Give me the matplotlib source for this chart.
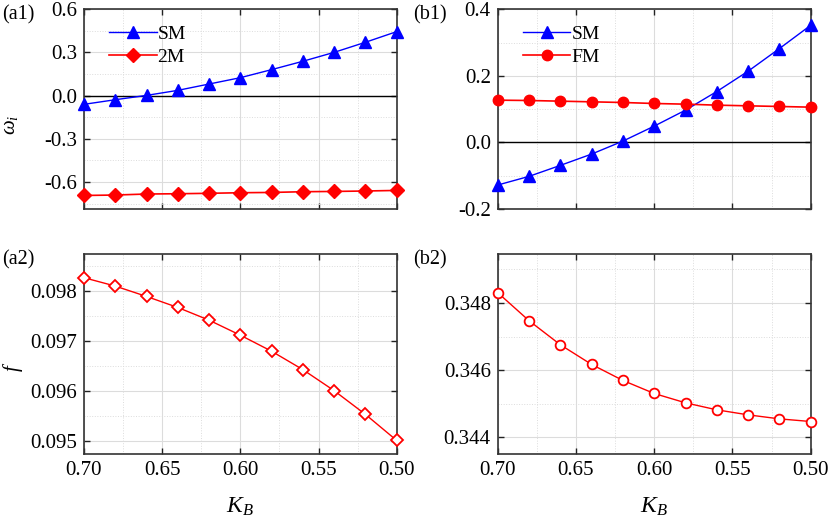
import matplotlib
matplotlib.use("Agg")
import matplotlib.pyplot as plt
from matplotlib.ticker import MultipleLocator, FormatStrFormatter

plt.rcParams['font.family'] = ['Liberation Serif', 'DejaVu Serif']
plt.rcParams['mathtext.fontset'] = 'custom'
plt.rcParams['mathtext.rm'] = 'Liberation Serif'
plt.rcParams['mathtext.it'] = 'Liberation Serif:italic'

# ---- data ----
kb = [0.70, 0.68, 0.66, 0.64, 0.62, 0.60, 0.58, 0.56, 0.54, 0.52, 0.50]
a1_sm = [-0.060, -0.028, 0.002, 0.037, 0.081, 0.125, 0.181, 0.239, 0.301, 0.371, 0.445]
a1_2m = [-0.693, -0.690, -0.683, -0.681, -0.678, -0.674, -0.672, -0.667, -0.665, -0.662, -0.658]
b1_sm = [-0.128, -0.102, -0.069, -0.035, 0.004, 0.049, 0.097, 0.153, 0.214, 0.282, 0.352]
b1_fm = [0.127, 0.126, 0.124, 0.122, 0.120, 0.117, 0.115, 0.112, 0.110, 0.108, 0.106]
a2_f = [0.098267, 0.098100, 0.097893, 0.097673, 0.097420, 0.097120,
        0.096800, 0.096433, 0.096013, 0.095540, 0.095020]
b2_f = [0.348308, 0.347473, 0.346756, 0.346169, 0.345692, 0.345303,
        0.345025, 0.344816, 0.344667, 0.344547, 0.344468]

fig = plt.figure(figsize=(8.30, 5.19), dpi=100)
W, H = 830, 519
def box(l, t, r, b):
    return [l / W, 1 - b / H, (r - l) / W, (b - t) / H]

ax_a1 = fig.add_axes(box(84, 9.3, 396.7, 209))
ax_b1 = fig.add_axes(box(497.7, 9.3, 810.7, 209))
ax_a2 = fig.add_axes(box(84, 254, 396.7, 454))
ax_b2 = fig.add_axes(box(497.7, 254, 810.7, 454))

def style(ax, ymaj, ymin, fmt, xlabels):
    ax.set_xlim(0.70, 0.50)
    ax.xaxis.set_major_locator(MultipleLocator(0.05))
    ax.xaxis.set_minor_locator(MultipleLocator(0.025))
    ax.yaxis.set_major_locator(MultipleLocator(ymaj))
    ax.yaxis.set_minor_locator(MultipleLocator(ymin))
    ax.yaxis.set_major_formatter(FormatStrFormatter(fmt))
    ax.xaxis.set_major_formatter(FormatStrFormatter('%.2f'))
    ax.grid(True, which='major', color='#dcdcdc', lw=0.8, ls='-', zorder=0)
    ax.grid(True, which='minor', color='#dcdcdc', lw=0.7, ls=':', zorder=0)
    ax.set_axisbelow(True)
    ax.tick_params(which='major', direction='in', length=4, width=1,
                   top=True, right=True, labelsize=15, pad=5, colors='#222222',
                   labelcolor='black')
    ax.tick_params(which='minor', length=0, top=True, right=True)
    if not xlabels:
        ax.tick_params(axis='x', labelbottom=False)
    for s in ax.spines.values():
        s.set_color('#333333')
        s.set_linewidth(1.2)

leg_kw = dict(loc='upper left', bbox_to_anchor=(0.055, 0.96), frameon=False, fontsize=14,
              handlelength=2.45, handletextpad=0.05, labelspacing=0.3, borderaxespad=0.0)

# (a1)
style(ax_a1, 0.3, 0.15, '%.1f', False)
ax_a1.set_ylim(-0.787, 0.6)
ax_a1.axhline(0, color='black', lw=1, zorder=1)
ax_a1.plot(kb, a1_sm, color='blue', lw=1, marker='^', ms=9, label='SM', zorder=3, clip_on=False)
ax_a1.plot(kb, a1_2m, color='red', lw=1.2, marker='D', ms=7, label='2M', zorder=3, clip_on=False)
ax_a1.legend(**leg_kw)
ax_a1.set_ylabel(r'$\omega_i$', fontsize=15)
ax_a1.yaxis.set_label_coords(-0.205, 0.423)

# (b1)
style(ax_b1, 0.2, 0.1, '%.1f', False)
ax_b1.set_ylim(-0.2, 0.4)
ax_b1.axhline(0, color='black', lw=1, zorder=1)
ax_b1.plot(kb, b1_sm, color='blue', lw=1, marker='^', ms=9, label='SM', zorder=3, clip_on=False)
ax_b1.plot(kb, b1_fm, color='red', lw=1.2, marker='o', ms=7.5, label='FM', zorder=3, clip_on=False)
ax_b1.legend(**leg_kw)

# (a2)
style(ax_a2, 0.001, 0.0005, '%.3f', True)
ax_a2.set_ylim(0.09475, 0.09874)
ax_a2.plot(kb, a2_f, color='red', lw=1, marker='D', ms=6.5, mfc='white', mec='red',
           mew=1.3, zorder=3, clip_on=False)
ax_a2.set_ylabel(r'$f$', fontsize=15)
ax_a2.yaxis.set_label_coords(-0.19, 0.435)
ax_a2.set_xlabel(r'$K_B$', fontsize=17, labelpad=11)

# (b2)
style(ax_b2, 0.002, 0.001, '%.3f', True)
ax_b2.set_ylim(0.3435, 0.34946)
ax_b2.plot(kb, b2_f, color='red', lw=1, marker='o', ms=7, mfc='white', mec='red',
           mew=1.3, zorder=3, clip_on=False)
ax_b2.set_xlabel(r'$K_B$', fontsize=17, labelpad=11)

# panel labels
for txt, x, y in [('(a1)', 2, 15), ('(b1)', 413, 15), ('(a2)', 2, 260), ('(b2)', 413, 260)]:
    fig.text(x / W, 1 - y / H, txt, fontsize=14.5, va='center', ha='left')

fig.savefig('out.png', dpi=100)
